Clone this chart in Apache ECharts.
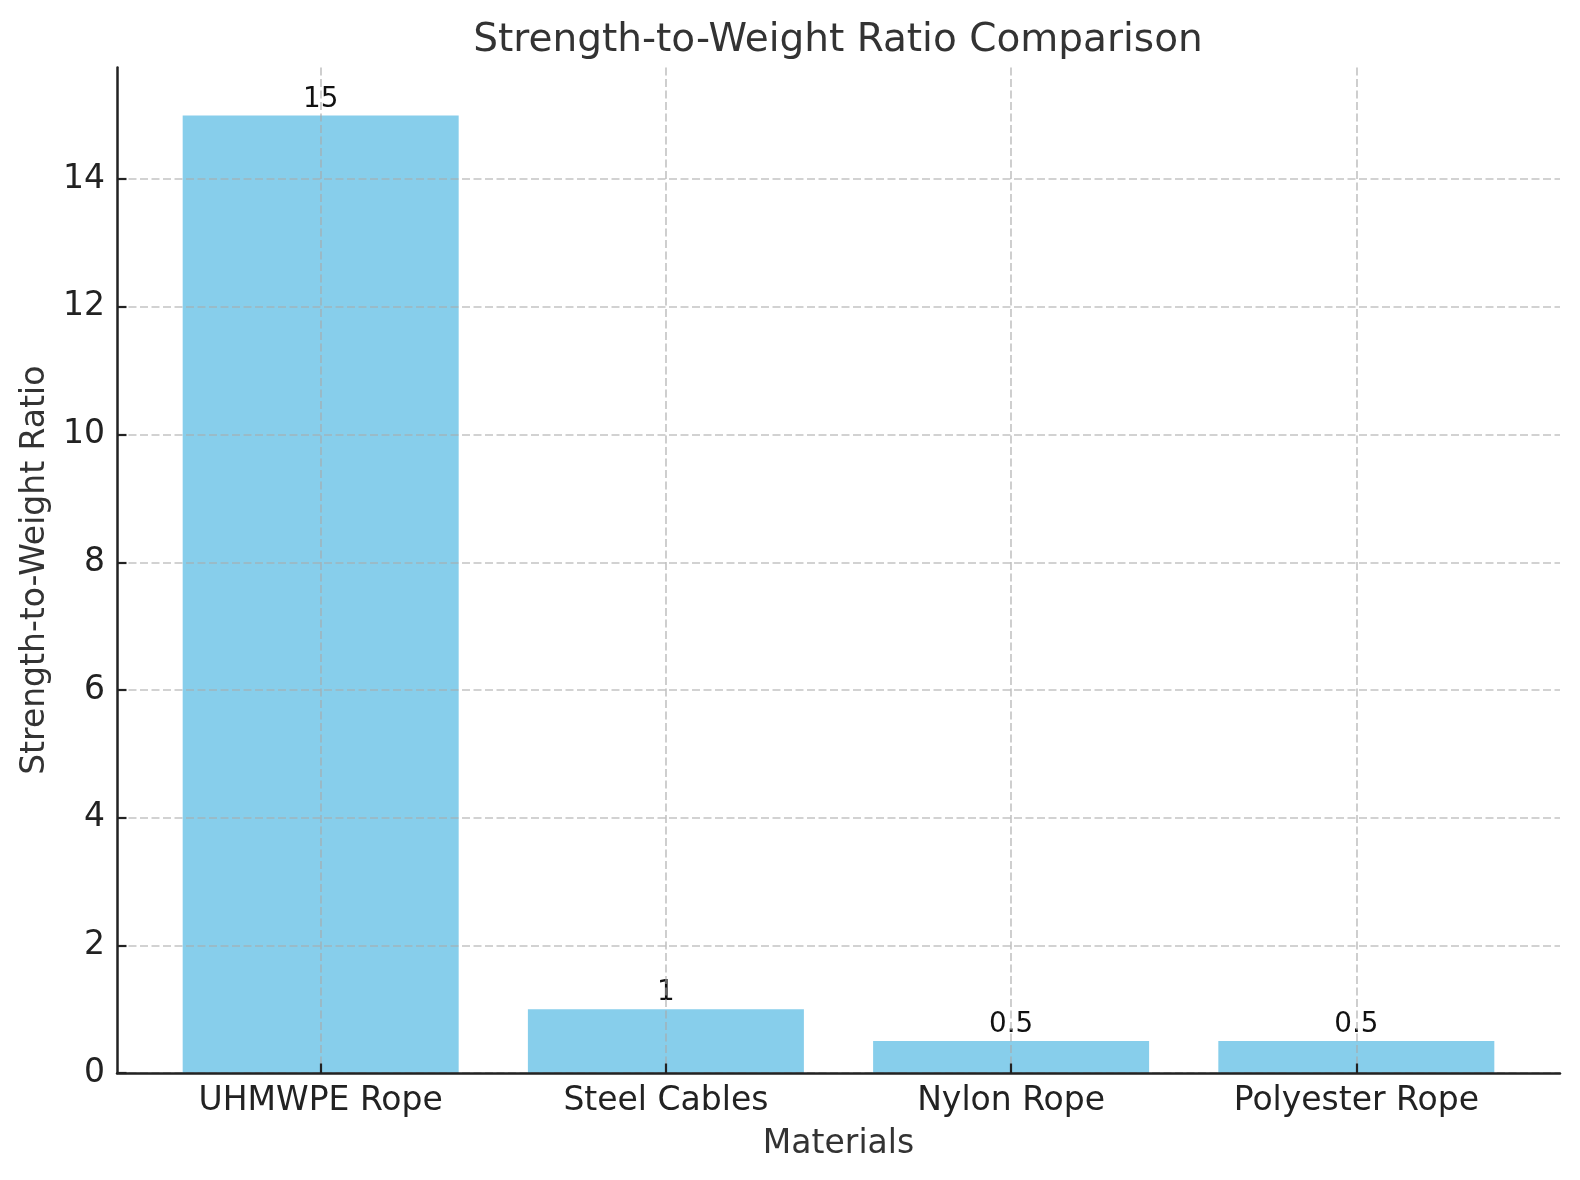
<!DOCTYPE html>
<html>
<head>
<meta charset="utf-8">
<script src="https://cdn.jsdelivr.net/npm/echarts@6/dist/echarts.min.js"></script>
<style>
html,body{margin:0;padding:0;background:#fff;}
#chart{width:1580px;height:1180px;}
</style>
</head>
<body>
<div id="chart"></div>
<script>
const categories = ['UHMWPE Rope', 'Steel Cables', 'Nylon Rope', 'Polyester Rope'];
const values = [15, 1, 0.5, 0.5];
const yTicks = [0, 2, 4, 6, 8, 10, 12, 14];
const xTicks = [0, 1, 2, 3];

const FONT = "'DejaVu Sans', sans-serif";
const gridLine = { show: true, lineStyle: { color: 'rgba(170,170,170,0.7)', width: 1.6, type: [8, 3.5] } };

const chart = echarts.init(document.getElementById('chart'), null, { renderer: 'canvas' });
chart.setOption({
  backgroundColor: '#ffffff',
  animation: false,
  title: {
    text: 'Strength-to-Weight Ratio Comparison',
    left: 833, top: 16,
    textAlign: 'center',
    textStyle: { fontFamily: FONT, fontSize: 39, fontWeight: 'normal', color: '#333333' }
  },
  grid: { left: 117, right: 20, top: 67.5, bottom: 107, containLabel: false },
  xAxis: {
    type: 'value',
    min: -0.59, max: 3.59,
    z: 3,
    name: 'Materials',
    nameLocation: 'middle',
    nameGap: 55,
    nameTextStyle: { fontFamily: FONT, fontSize: 33, color: '#333333' },
    axisLine: { show: true, onZero: false, lineStyle: { color: '#222222', width: 2.5 } },
    axisTick: { show: true, inside: true, customValues: xTicks, length: 9.5, lineStyle: { color: '#222222', width: 2.2 } },
    axisLabel: {
      customValues: xTicks,
      margin: 12,
      fontFamily: FONT, fontSize: 33, color: '#222222',
      formatter: v => categories[Math.round(v)] || ''
    },
    splitLine: gridLine
  },
  yAxis: {
    type: 'value',
    min: 0, max: 15.75, interval: 2,
    z: 3,
    name: 'Strength-to-Weight Ratio',
    nameLocation: 'middle',
    nameGap: 63,
    nameTextStyle: { fontFamily: FONT, fontSize: 33, color: '#333333' },
    axisLine: { show: true, onZero: false, lineStyle: { color: '#222222', width: 2.5 } },
    axisTick: { show: true, inside: true, customValues: yTicks, length: 9.5, lineStyle: { color: '#222222', width: 2.2 } },
    axisLabel: {
      customValues: yTicks,
      margin: 12,
      fontFamily: FONT, fontSize: 33, color: '#222222'
    },
    splitLine: gridLine
  },
  series: [{
    type: 'bar',
    data: values.map((v, i) => [i, v]),
    barWidth: 276,
    itemStyle: { color: '#87CEEB' },
    label: {
      show: true,
      position: 'top',
      distance: 2,
      fontFamily: FONT, fontSize: 27.8, color: '#111111',
      formatter: p => String(p.value[1])
    }
  }]
});
</script>
</body>
</html>
